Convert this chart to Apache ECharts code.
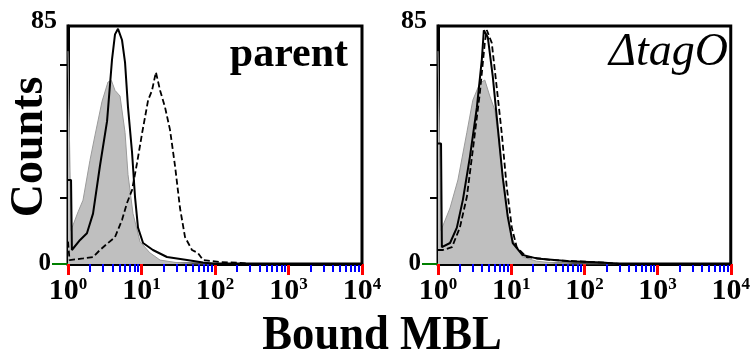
<!DOCTYPE html>
<html>
<head>
<meta charset="utf-8">
<script src="https://cdn.jsdelivr.net/npm/echarts@6/dist/echarts.min.js"></script>
<style>
  html, body { margin: 0; padding: 0; background: #fff; }
  #chart { width: 753px; height: 356px; }
</style>
</head>
<body>
<div id="chart"></div>
<script>
// [bound MBL, counts]
var parentShaded = [[1, 76], [1.06, 76], [1.1, 12], [1.17, 12], [1.37, 18.6], [1.6, 22.8], [1.99, 37], [2.33, 46],
  [2.9, 58], [3.5, 65], [3.9, 65.5], [4.36, 62], [5.1, 60], [5.97, 47], [6.55, 32], [7.66, 18], [9.54, 8],
  [13, 4], [17.9, 1.4], [30, 0.5], [50, 0], [10000, 0]];
var parentSolid = [[1, 30], [1.1, 30], [1.13, 5], [1.17, 5], [1.46, 8.6], [1.81, 11], [2.19, 18], [2.72, 35],
  [3.4, 51], [3.97, 73], [4.36, 82], [4.79, 84], [5.43, 80], [5.97, 72], [6.55, 56], [7.43, 40], [8.16, 24],
  [8.96, 13], [10.5, 7.5], [14.3, 5], [22.2, 2.5], [41.6, 1.4], [68.7, 0.5], [100, 0], [10000, 0]];
var parentDashed = [[1, 8], [1.05, 1.4], [1.6, 2], [2.19, 2.5], [2.72, 5], [3.5, 7.5], [4.36, 9.6], [5.43, 15.7],
  [6.35, 21.8], [7.43, 26.4], [8.69, 36], [10.2, 46.8], [12.3, 58.5], [13.9, 62], [15.7, 68.5], [17.9, 62],
  [20.9, 56], [24.4, 48], [28.6, 35], [33.4, 20], [39.1, 9.6], [48.6, 5], [58.7, 3.9], [68.7, 1.4],
  [120, 0.7], [220, 0.4], [300, 0], [10000, 0]];

var tagOShaded = [[1, 76], [1.06, 76], [1.1, 12], [1.17, 12], [1.46, 20], [1.87, 30], [2.48, 47], [2.99, 58.5],
  [3.73, 64.6], [4.36, 65.7], [5.1, 60], [5.97, 55], [6.55, 46.7], [7.66, 32], [8.96, 18], [10.5, 8.6],
  [14.3, 2.5], [22.2, 1], [40, 0.3], [70, 0], [10000, 0]];
var tagOSolid = [[1, 43], [1.1, 43], [1.13, 6], [1.17, 6], [1.46, 7.5], [1.81, 13], [2.19, 23], [2.72, 38],
  [3.4, 56], [3.97, 73], [4.23, 83.5], [4.79, 81], [5.6, 67], [6.55, 49], [7.66, 31], [8.96, 17], [10.5, 7.5],
  [14.3, 3.2], [22.2, 2], [62.5, 1], [176, 0.5], [300, 0], [10000, 0]];
var tagODashed = [[1, 5], [1.17, 5], [1.55, 6], [1.99, 13], [2.48, 24], [2.99, 40.7], [3.73, 61], [4.36, 79],
  [4.64, 83.5], [5.43, 79], [6.35, 63], [7.43, 46.7], [8.69, 27.5], [10.2, 13], [11.9, 6], [16.2, 2.5],
  [36.7, 1.4], [176, 0.5], [300, 0], [10000, 0]];

var panelNames = ['parent', '\u0394tagO'];
var yTickValues = [23.75, 47.5, 71.25];
var yLabelValues = [0, 85];

var serif = '"Liberation Serif", "Times New Roman", serif';

var grids = [
  {left: 68, top: 26, width: 294, height: 238},
  {left: 438, top: 26, width: 294, height: 238}
];

var xAxes = [], yAxes = [];
grids.forEach(function (g, i) {
  g.show = true;
  g.borderColor = '#000';
  g.borderWidth = 3;
  g.backgroundColor = 'transparent';
  xAxes.push({
    type: 'log', logBase: 10, min: 1, max: 10000, gridIndex: i, position: 'bottom',
    axisLine: {lineStyle: {color: '#000', width: 3}},
    axisTick: {show: true, length: 11, lineStyle: {color: 'red', width: 3}},
    minorTick: {show: true, splitNumber: 9, length: 8, lineStyle: {color: 'blue', width: 2}},
    splitLine: {show: false},
    minorSplitLine: {show: false},
    axisLabel: {
      margin: 12,
      formatter: function (v) { return '{b|10}{s|' + Math.round(Math.log10(v)) + '}'; },
      rich: {
        b: {fontFamily: serif, fontWeight: 'bold', fontSize: 30, color: '#000'},
        s: {fontFamily: serif, fontWeight: 'bold', fontSize: 17, color: '#000', verticalAlign: 'top'}
      }
    }
  });
  yAxes.push({
    type: 'value', min: 0, max: 85, gridIndex: i, position: 'left',
    axisLine: {show: true, lineStyle: {color: '#000', width: 3}},
    axisTick: {show: true, customValues: yTickValues, length: 8, lineStyle: {color: '#000', width: 2}},
    splitLine: {show: false},
    axisLabel: {
      customValues: yLabelValues,
      margin: 11,
      formatter: function (v) { return v === 0 ? '{z|0}' : '{t|85}'; },
      rich: {
        z: {fontFamily: serif, fontWeight: 'bold', fontSize: 25, color: '#000', padding: [0, 6, 0, 0]},
        t: {fontFamily: serif, fontWeight: 'bold', fontSize: 26, color: '#000', padding: [0, 0, 10, 0]}
      }
    }
  });
  // the longer tick at zero
  yAxes.push({
    type: 'value', min: 0, max: 85, gridIndex: i, position: 'left', offset: 0,
    axisLine: {show: false},
    axisTick: {show: true, customValues: [0], length: 16, lineStyle: {color: 'green', width: 2}},
    axisLabel: {show: false},
    splitLine: {show: false}
  });
});

function shaded(data, p) {
  return {type: 'line', xAxisIndex: p, yAxisIndex: p * 2, data: data, symbol: 'none',
    lineStyle: {color: '#9a9a9a', width: 1}, areaStyle: {color: '#bfbfbf', opacity: 1}};
}
function solid(data, p) {
  return {type: 'line', xAxisIndex: p, yAxisIndex: p * 2, data: data, symbol: 'none',
    lineStyle: {color: '#000', width: 2}};
}
function dashed(data, p) {
  return {type: 'line', xAxisIndex: p, yAxisIndex: p * 2, data: data, symbol: 'none',
    lineStyle: {color: '#000', width: 1.8, type: [6, 3]}};
}

var chart = echarts.init(document.getElementById('chart'));
chart.setOption({
  animation: false,
  backgroundColor: '#fff',
  grid: grids,
  xAxis: xAxes,
  yAxis: yAxes,
  series: [
    shaded(parentShaded, 0), dashed(parentDashed, 0), solid(parentSolid, 0),
    shaded(tagOShaded, 1), dashed(tagODashed, 1), solid(tagOSolid, 1)
  ],
  graphic: [
    {type: 'text', x: 30, y: 147, rotation: Math.PI / 2,
      style: {text: 'Counts', font: 'bold 46px ' + serif, fill: '#000', align: 'center', verticalAlign: 'middle'}},
    {type: 'text', x: 382, y: 337, scaleX: 0.93,
      style: {text: 'Bound MBL', font: 'bold 48px ' + serif, fill: '#000', align: 'center', verticalAlign: 'middle'}},
    {type: 'text', x: 348, y: 55,
      style: {text: panelNames[0], font: 'bold 42px ' + serif, fill: '#000', align: 'right', verticalAlign: 'middle'}},
    {type: 'text', x: 728, y: 53,
      style: {text: panelNames[1], font: 'italic 46px ' + serif, fill: '#000', align: 'right', verticalAlign: 'middle'}}
  ]
});
</script>
</body>
</html>
